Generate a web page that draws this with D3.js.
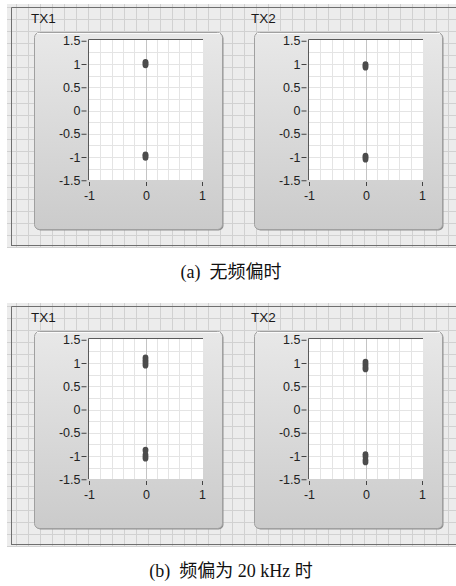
<!DOCTYPE html>
<html>
<head>
<meta charset="utf-8">
<script src="https://cdn.jsdelivr.net/npm/d3@7/dist/d3.min.js"></script>
<style>
  html, body { margin: 0; padding: 0; background: #ffffff; }
  svg { display: block; }
</style>
</head>
<body>
<svg id="chart" width="456" height="586"></svg>
<script>
// Constellation points (I, Q) for each transmitter, without and with frequency offset
const tx1NoOffset = [
  [0, 1.05], [0, 1.03], [0, 1.01], [0, 0.99], [0, 0.97],
  [0, -0.94], [0, -0.96], [0, -0.98], [0, -1.00], [0, -1.02]
];
const tx2NoOffset = [
  [0, 1.00], [0, 0.98], [0, 0.96], [0, 0.94], [0, 0.92],
  [0, -0.97], [0, -0.99], [0, -1.01], [0, -1.03], [0, -1.06]
];
const tx1Offset = [
  [0, 1.12], [0, 1.09], [0, 1.06], [0, 1.03], [0, 1.00], [0, 0.97], [0, 0.94],
  [0, -0.86], [0, -0.89], [0, -0.97], [0, -1.00], [0, -1.03], [0, -1.06]
];
const tx2Offset = [
  [0, 1.03], [0, 1.00], [0, 0.97], [0, 0.94], [0, 0.91], [0, 0.88], [0, 0.86],
  [0, -0.96], [0, -0.99], [0, -1.02], [0, -1.08], [0, -1.11], [0, -1.14]
];

const channelNames = ["TX1", "TX2"];
const captions = ["(a)  无频偏时", "(b)  频偏为 20 kHz 时"];
const xTicks = [-1, 0, 1];
const yTicks = [-1.5, -1, -0.5, 0, 0.5, 1, 1.5];
const xGrid = [-0.8, -0.6, -0.4, -0.2, 0.2, 0.4, 0.6, 0.8];
const yGrid = [-1.25, -1, -0.75, -0.5, -0.25, 0, 0.25, 0.5, 0.75, 1, 1.25];

const rows = [
  { caption: captions[0], sets: [tx1NoOffset, tx2NoOffset] },
  { caption: captions[1], sets: [tx1Offset, tx2Offset] }
];

const svg = d3.select("#chart");
const defs = svg.append("defs");

// Light gradient for the graph bezels
const grad = defs.append("linearGradient")
  .attr("id", "bezel").attr("x1", 0).attr("y1", 0).attr("x2", 0).attr("y2", 1);
grad.append("stop").attr("offset", "0%").attr("stop-color", "#e8e8e8");
grad.append("stop").attr("offset", "100%").attr("stop-color", "#cbcbcb");

// Front-panel grid pattern
const pat = defs.append("pattern")
  .attr("id", "panelGrid").attr("patternUnits", "userSpaceOnUse")
  .attr("width", 12).attr("height", 12).attr("x", 4).attr("y", 7);
pat.append("rect").attr("width", 12).attr("height", 12).attr("fill", "#ececec");
pat.append("path").attr("d", "M0.5,0V12M0,0.5H12")
  .attr("stroke", "#d1d1d1").attr("stroke-width", 1).attr("fill", "none");

const ROW_STEP = 299;
const COL_STEP = 220;
const fmt = d => String(d);

rows.forEach((row, r) => {
  const oy = r * ROW_STEP;
  const g = svg.append("g").attr("transform", `translate(0,${oy})`);

  // front panel background
  g.append("rect").attr("x", 7).attr("y", 4).attr("width", 449).attr("height", 244)
    .attr("fill", "url(#panelGrid)");
  g.append("path").attr("d", "M11.5,246V7.5H456")
    .attr("fill", "none").attr("stroke", "#6f6f6f");
  g.append("path").attr("d", "M11,245.5H456")
    .attr("fill", "none").attr("stroke", "#6f6f6f");

  row.sets.forEach((pts, c) => {
    const ox = c * COL_STEP;
    const cg = g.append("g").attr("transform", `translate(${ox},0)`);

    cg.append("text").attr("x", 31).attr("y", 23)
      .attr("font-family", "Liberation Sans, Arial, sans-serif")
      .attr("font-size", 13.5).attr("fill", "#1a1a1a")
      .text(channelNames[c]);

    // bezel with shadow
    cg.append("rect").attr("x", 35.5).attr("y", 33.5).attr("width", 188).attr("height", 197)
      .attr("rx", 5).attr("fill", "#8f8f8f");
    cg.append("rect").attr("x", 34.5).attr("y", 32.5).attr("width", 188).attr("height", 197)
      .attr("rx", 5).attr("fill", "url(#bezel)").attr("stroke", "#a0a0a0");
    cg.append("path").attr("d", "M37,33.5H220")
      .attr("stroke", "#fafafa").attr("fill", "none");

    const x = d3.scaleLinear().domain([-1, 1]).range([89, 202]);
    const y = d3.scaleLinear().domain([-1.5, 1.5]).range([180.25, 40.75]);

    // plot area
    cg.append("rect").attr("x", 88).attr("y", 39).attr("width", 115).attr("height", 141)
      .attr("fill", "#ffffff");

    cg.append("g").selectAll("line").data(xGrid).join("line")
      .attr("x1", d => Math.round(x(d)) + 0.5).attr("x2", d => Math.round(x(d)) + 0.5)
      .attr("y1", 39).attr("y2", 180)
      .attr("stroke", "#e4e4e4");
    cg.append("g").selectAll("line").data(yGrid).join("line")
      .attr("y1", d => Math.round(y(d)) + 0.5).attr("y2", d => Math.round(y(d)) + 0.5)
      .attr("x1", 88).attr("x2", 203)
      .attr("stroke", "#e4e4e4");
    // zero line of the I axis
    cg.append("line")
      .attr("x1", Math.round(x(0)) + 0.5).attr("x2", Math.round(x(0)) + 0.5)
      .attr("y1", 39).attr("y2", 180).attr("stroke", "#c4c4c4");

    // plot border (top / left)
    cg.append("path").attr("d", "M88.5,180V39.5H203")
      .attr("fill", "none").attr("stroke", "#5a5a5a");

    // points
    cg.append("g").selectAll("circle").data(pts).join("circle")
      .attr("cx", d => x(d[0])).attr("cy", d => y(d[1])).attr("r", 2.8)
      .attr("fill", "#4c4c4c");

    // axes
    const yAxis = cg.append("g").attr("transform", "translate(86.5,0)")
      .call(d3.axisLeft(y).tickValues(yTicks).tickFormat(fmt).tickSize(5).tickPadding(1));
    const xAxis = cg.append("g").attr("transform", "translate(0,182)")
      .call(d3.axisBottom(x).tickValues(xTicks).tickFormat(fmt).tickSize(4).tickPadding(5));
    [yAxis, xAxis].forEach(a => {
      a.select(".domain").remove();
      a.selectAll(".tick line").attr("stroke", "#444");
      a.selectAll("text").attr("fill", "#222")
        .attr("font-family", "Liberation Sans, Arial, sans-serif").attr("font-size", 12.5);
    });
    // tick marks on the x axis sit on whole pixels
    xAxis.selectAll(".tick").attr("transform", d => `translate(${Math.round(x(d)) + 0.5},0)`);
  });

  g.append("text").attr("x", 231).attr("y", 278)
    .attr("text-anchor", "middle")
    .style("white-space", "pre")
    .attr("font-family", "Liberation Serif, 'Noto Sans CJK SC', serif")
    .attr("font-size", 18).attr("fill", "#111")
    .text(row.caption);
});
</script>
</body>
</html>
